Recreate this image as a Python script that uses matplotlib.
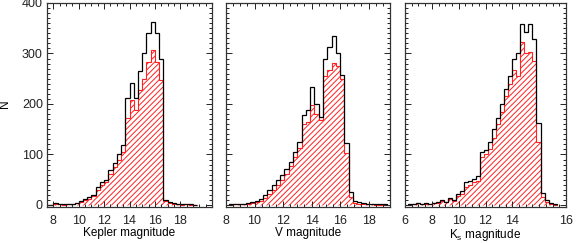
import numpy as np
import matplotlib
matplotlib.use("Agg")
import matplotlib.pyplot as plt
from matplotlib.ticker import MultipleLocator

plt.rcParams['font.family'] = ['Liberation Sans', 'DejaVu Sans']
plt.rcParams['mathtext.fontset'] = 'custom'
plt.rcParams['mathtext.rm'] = 'Liberation Sans'
plt.rcParams['hatch.linewidth'] = 0.7
plt.rcParams['hatch.color'] = '#ff2020'

# ---------------- data ----------------
# Kepler magnitude histogram (bin width 1/3 mag)
kp_edges = [k / 3 for k in range(22, 59)]
kp_all = [0, 0, 4, 1, 1, 2, 2, 4, 8, 12, 15, 20, 35, 45, 50, 70, 83, 100, 118,
          212, 241, 212, 265, 300, 340, 363, 340, 290, 10, 6, 3, 2, 1, 2, 1, 0]
kp_sub = [0, 0, 2, 1, 0, 1, 1, 3, 6, 10, 12, 17, 30, 40, 45, 62, 75, 90, 105,
          172, 208, 188, 228, 250, 284, 306, 284, 247, 7, 4, 2, 1, 0, 1, 0, 0]

# V magnitude histogram (bin width 0.3 mag)
v_edges = [round(8.2 + 0.3 * k, 2) for k in range(38)]
v_all = [1, 1, 2, 1, 3, 5, 8, 12, 20, 30, 40, 50, 60, 72, 85, 105, 125, 178, 188,
         234, 200, 175, 290, 313, 334, 300, 258, 122, 25, 8, 5, 3, 2, 2, 1, 1, 1]
v_sub = [0, 1, 1, 1, 2, 3, 5, 8, 14, 22, 30, 40, 50, 62, 77, 95, 113, 160, 165,
         198, 180, 168, 255, 268, 282, 275, 250, 102, 16, 4, 2, 1, 1, 1, 0, 0, 0]

# Ks magnitude histogram (bin width 0.3 mag)
ks_edges = [round(6.2 + 0.3 * k, 2) for k in range(38)]
ks_all = [1, 2, 4, 2, 3, 2, 4, 5, 10, 6, 14, 10, 22, 28, 45, 48, 52, 58, 105,
          108, 125, 150, 172, 200, 230, 255, 290, 300, 358, 343, 358, 328, 162,
          23, 10, 3, 1]
ks_sub = [0, 1, 3, 1, 2, 1, 3, 4, 8, 5, 12, 8, 18, 22, 35, 40, 45, 48, 95,
          100, 110, 132, 160, 185, 215, 240, 268, 255, 323, 300, 303, 285, 125,
          15, 5, 2, 0]

xlabels = ['Kepler magnitude', 'V magnitude', 'K$_{\\rm s}$ magnitude']
xlims = [(7.5, 20.5), (8.0, 19.5), (6.0, 18.0)]
xticks = [[8, 10, 12, 14, 16, 18], [8, 10, 12, 14, 16, 18], [6, 8, 10, 12, 14, 18]]
xticklabels = [['8', '10', '12', '14', '16', '18'],
               ['8', '10', '12', '14', '16', '18'],
               ['6', '8', '10', '12', '14', '16']]
yticks = [0, 100, 200, 300, 400]

panels = [(kp_edges, kp_all, kp_sub), (v_edges, v_all, v_sub), (ks_edges, ks_all, ks_sub)]

# ---------------- figure ----------------
W, H = 576, 243
fig = plt.figure(figsize=(W / 100, H / 100), dpi=100)
lefts = [47, 226, 405]
widths = [165, 164, 161]
top_px, bot_px = 3, 207

for i, (edges, tot, sub) in enumerate(panels):
    ax = fig.add_axes([lefts[i] / W, (H - bot_px) / H, widths[i] / W, (bot_px - top_px) / H])
    ax.stairs(sub, edges, fill=True, facecolor='none', edgecolor='#ff2020',
              hatch='//////', linewidth=0.8)
    ax.stairs(tot, edges, color='black', linewidth=0.9, baseline=0)
    ax.set_xlim(*xlims[i])
    ax.set_ylim(-4, 400)
    ax.set_xticks(xticks[i])
    ax.set_xticklabels(xticklabels[i])
    ax.xaxis.set_minor_locator(MultipleLocator(0.5))
    ax.set_yticks(yticks)
    ax.yaxis.set_minor_locator(MultipleLocator(10))
    ax.tick_params(which='both', direction='in', top=True, right=True,
                   labelsize=9, colors='#222222', width=0.7)
    ax.tick_params(which='major', length=4)
    ax.tick_params(which='minor', length=2)
    ax.tick_params(axis='x', pad=6)
    ax.tick_params(axis='y', pad=3)
    for s in ax.spines.values():
        s.set_linewidth(0.9)
        s.set_color('#333333')
    ax.set_xlabel(xlabels[i], fontsize=8.5, labelpad=0)
    if i == 0:
        ax.set_ylabel('N', fontsize=8.5)
        ax.yaxis.set_label_coords(-0.22, 0.505)
    else:
        ax.set_yticklabels([])

fig.savefig('out.png', dpi=100)
